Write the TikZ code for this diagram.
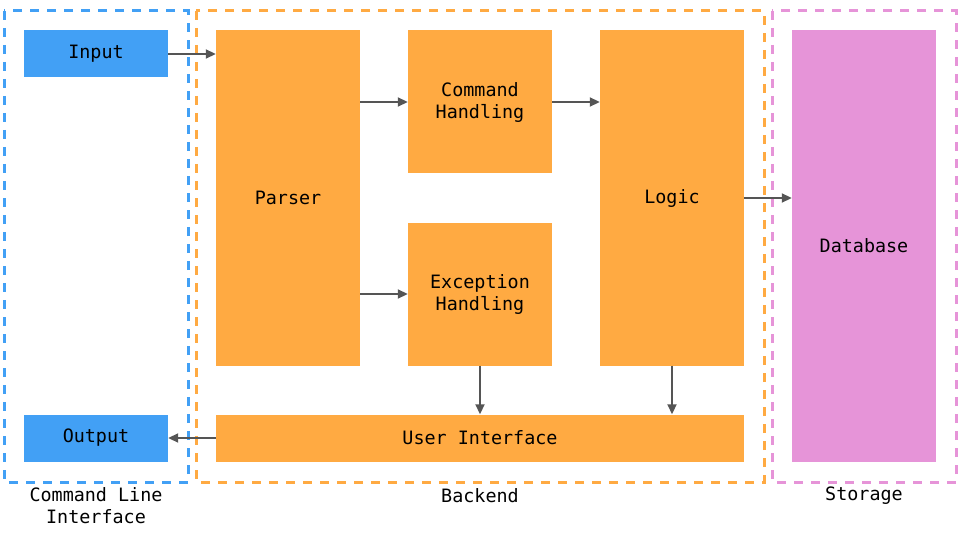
\documentclass[tikz,border=0pt]{standalone}
\usepackage{fontspec}
\setmonofont{DejaVu Sans Mono}
\usetikzlibrary{arrows.meta,calc}

\definecolor{cliblue}{RGB}{66,160,245}
\definecolor{backorange}{RGB}{255,170,66}
\definecolor{storepink}{RGB}{230,148,216}
\definecolor{arrowgray}{RGB}{85,85,85}

\tikzset{
	block/.style={inner sep=0pt, align=center, font=\ttfamily\fontsize{18.4}{22}\selectfont},
	frame/.style={line width=3pt, dash pattern=on 9pt off 8pt},
	flow/.style={arrowgray, line width=1.8pt, -{Triangle[length=10pt,width=9pt]}},
	caption/.style={align=center, font=\ttfamily\fontsize{18.4}{22}\selectfont}
}

\begin{document}
\begin{tikzpicture}[x=1pt,y=-1pt]
	
	\useasboundingbox (0,0) rectangle (960,540);
	
	% dashed groups
	\draw[frame, cliblue] (4,11) rectangle (188,482);
	\draw[frame, backorange] (196,11) rectangle (764,482);
	\draw[frame, storepink] (772,11) rectangle (956,482);
	
	% blocks
	\node[block, fill=cliblue, minimum width=144pt, minimum height=47pt] (input) at (96,54) {Input};
	\node[block, fill=cliblue, minimum width=144pt, minimum height=47pt] (output) at (96,438) {Output};
	\node[block, fill=backorange, minimum width=144pt, minimum height=335pt] (parser) at (288,198) {Parser};
	\node[block, fill=backorange, minimum width=144pt, minimum height=143pt] (cmd) at (480,102) {Command\\Handling};
	\node[block, fill=backorange, minimum width=144pt, minimum height=143pt] (exc) at (480,294) {Exception\\Handling};
	\node[block, fill=backorange, minimum width=144pt, minimum height=335pt] (logic) at (672,198) {Logic};
	\node[block, fill=backorange, minimum width=528pt, minimum height=47pt] (ui) at (480,438) {User Interface};
	\node[block, fill=storepink, minimum width=144pt, minimum height=431pt] (db) at (864,246) {Database};
	
	% group labels
	\node[caption] (clilabel) at (96,506) {Command Line\\Interface};
	\node[caption] (backlabel) at (480,496) {Backend};
	\node[caption] (storelabel) at (864,496) {Storage};
	
	% connectors
	\draw[flow] (input.east) -- (parser.west |- input);
	\draw[flow] (parser.east |- cmd) -- (cmd.west);
	\draw[flow] (parser.east |- exc) -- (exc.west);
	\draw[flow] (cmd.east) -- (logic.west |- cmd);
	\draw[flow] (logic.east) -- (db.west |- logic);
	\draw[flow] (exc.south) -- (ui.north -| exc);
	\draw[flow] (logic.south) -- (ui.north -| logic);
	\draw[flow] (ui.west) -- (output.east);
	
\end{tikzpicture}
\end{document}
